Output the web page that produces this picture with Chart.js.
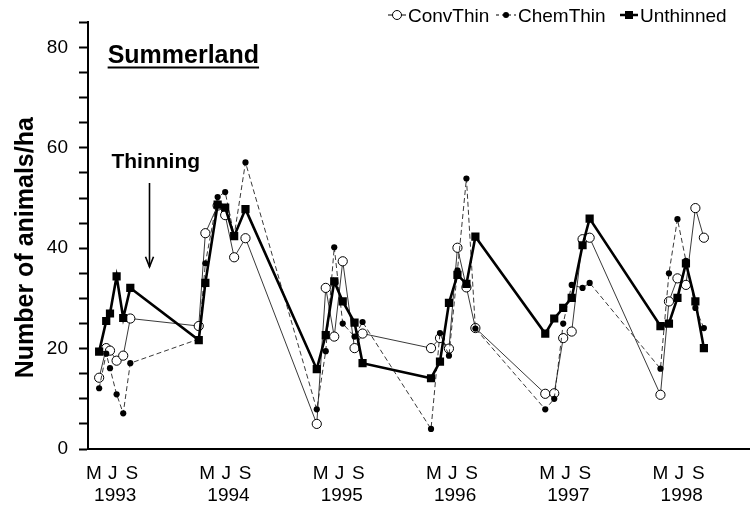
<!DOCTYPE html>
<html>
<head>
<meta charset="utf-8">
<script src="https://cdn.jsdelivr.net/npm/chart.js@4/dist/chart.umd.min.js"></script>
<style>
  html, body { margin: 0; padding: 0; background: #ffffff; }
  #wrap { width: 755px; height: 508px; }
</style>
</head>
<body>
<div id="wrap"><canvas id="chart" width="755" height="508"></canvas></div>
<script>
const FONT = '"Liberation Sans", Arial, Helvetica, sans-serif';

// Text
const yTitle = 'Number of animals/ha';
const siteName = 'Summerland';
const eventLabel = 'Thinning';
const seriesNames = ['ConvThin', 'ChemThin', 'Unthinned'];

// Axis labelling: months counted from Dec 1992 (May 1993 = 5)
const years = [1993, 1994, 1995, 1996, 1997, 1998];
const monthLetters = ['M', 'J', 'S'];
const monthNumbers = [5, 7, 9];
const yLabelled = [0, 20, 40, 60, 80];

// Sampling dates (months from Dec 1992)
const sampleMonths = [
  5.55, 6.3, 6.7, 7.4, 8.1, 8.85,
  16.1, 16.8, 18.1, 18.9, 19.85, 21.05,
  28.6, 29.55, 30.45, 31.35, 32.6, 33.45,
  40.7, 41.65, 42.6, 43.5, 44.45, 45.4,
  52.8, 53.75, 54.7, 55.6, 56.75, 57.5,
  65.0, 65.9, 66.8, 67.7, 68.7, 69.6
];

// Animals per hectare
const convThin = [
  14.2, 20.1, 19.6, 17.6, 18.6, 26.0,
  24.5, 43.0, 48.5, 46.6, 38.2, 42.0,
  5.0, 32.1, 22.4, 37.4, 20.1, 23.0,
  20.1, 22.1, 20.0, 40.1, 32.2, 24.1,
  11.0, 11.1, 22.1, 23.4, 41.8, 42.1,
  10.8, 29.4, 34.0, 32.7, 48.0, 42.1
];
const chemThin = [
  12.1, 19.0, 16.1, 10.9, 7.1, 17.1,
  21.9, 37.0, 50.2, 51.2, 42.5, 57.1,
  7.9, 19.5, 40.2, 25.0, 22.4, 25.3,
  4.0, 23.1, 18.6, 35.6, 53.9, 24.0,
  7.9, 10.0, 25.0, 32.7, 32.1, 33.1,
  16.0, 35.0, 45.8, 37.5, 28.1, 24.1
];
const unthinned = [
  19.4, 25.5, 27.0, 34.4, 26.1, 32.1,
  21.7, 33.1, 48.7, 48.1, 42.4, 47.8,
  15.9, 22.7, 33.4, 29.4, 25.2, 17.1,
  14.1, 17.4, 29.1, 34.7, 32.9, 42.3,
  23.0, 26.0, 28.1, 30.1, 40.6, 45.9,
  24.5, 25.0, 30.1, 37.0, 29.4, 20.1
];

// Annotation anchors in data units
const thinningMonth = 10.8;
const arrowFrom = 53;
const arrowTo = 36.3;

const toPoints = vals => vals.map((v, i) => ({ x: sampleMonths[i], y: v }));

const xMin = 4.37, xMax = 74.4;

// Legend with line-and-marker samples
const legendPlugin = {
  id: 'sampleLegend',
  afterDraw(chart) {
    const ctx = chart.ctx;
    const y = 15;
    const items = [
      { name: seriesNames[0], x: 388, w: 18, kind: 'circle', lw: 1, dash: [] },
      { name: seriesNames[1], x: 496, w: 20, kind: 'dot', lw: 1, dash: [3, 3] },
      { name: seriesNames[2], x: 620, w: 18, kind: 'square', lw: 2.5, dash: [] }
    ];
    ctx.save();
    ctx.font = '19px ' + FONT;
    ctx.textBaseline = 'middle';
    ctx.fillStyle = '#000';
    items.forEach(it => {
      ctx.strokeStyle = '#000';
      ctx.lineWidth = it.lw;
      ctx.setLineDash(it.dash);
      ctx.beginPath();
      ctx.moveTo(it.x, y);
      ctx.lineTo(it.x + it.w, y);
      ctx.stroke();
      ctx.setLineDash([]);
      const cx = it.x + it.w / 2;
      if (it.kind === 'circle') {
        ctx.beginPath();
        ctx.arc(cx, y, 4.5, 0, Math.PI * 2);
        ctx.fillStyle = '#fff';
        ctx.fill();
        ctx.lineWidth = 1;
        ctx.stroke();
      } else if (it.kind === 'dot') {
        ctx.beginPath();
        ctx.arc(cx, y, 3, 0, Math.PI * 2);
        ctx.fillStyle = '#000';
        ctx.fill();
      } else {
        ctx.fillStyle = '#000';
        ctx.fillRect(cx - 4, y - 4, 8, 8);
      }
      ctx.fillStyle = '#000';
      ctx.fillText(it.name, it.x + it.w + 2, y + 2);
    });
    ctx.restore();
  }
};

// Site name, thinning note with arrow, and the rotated y title
const notesPlugin = {
  id: 'notes',
  afterDraw(chart) {
    const ctx = chart.ctx;
    const xs = chart.scales.x, ys = chart.scales.y;
    ctx.save();
    ctx.fillStyle = '#000';
    ctx.strokeStyle = '#000';

    // site name, underlined
    ctx.font = 'bold 25px ' + FONT;
    ctx.textBaseline = 'alphabetic';
    const nx = xs.getPixelForValue(6.45);
    const ny = ys.getPixelForValue(76.9);
    ctx.fillText(siteName, nx, ny);
    const nw = ctx.measureText(siteName).width;
    ctx.lineWidth = 2;
    ctx.beginPath();
    ctx.moveTo(nx, ny + 4.5);
    ctx.lineTo(nx + nw, ny + 4.5);
    ctx.stroke();

    // thinning note
    ctx.font = 'bold 21px ' + FONT;
    ctx.fillText(eventLabel, xs.getPixelForValue(6.85), ys.getPixelForValue(56.0));

    const ax = Math.round(xs.getPixelForValue(thinningMonth)) + 0.5;
    const ay0 = ys.getPixelForValue(arrowFrom);
    const ay1 = ys.getPixelForValue(arrowTo);
    ctx.lineWidth = 1.6;
    ctx.beginPath();
    ctx.moveTo(ax, ay0);
    ctx.lineTo(ax, ay1);
    ctx.stroke();
    ctx.beginPath();
    ctx.moveTo(ax - 4, ay1 - 10);
    ctx.lineTo(ax, ay1);
    ctx.lineTo(ax + 4, ay1 - 10);
    ctx.stroke();

    // y axis title
    ctx.font = 'bold 25px ' + FONT;
    ctx.textAlign = 'center';
    ctx.textBaseline = 'alphabetic';
    ctx.translate(33, (ys.top + ys.bottom) / 2 + 12);
    ctx.rotate(-Math.PI / 2);
    ctx.fillText(yTitle, 0, 0);
    ctx.restore();
  }
};

new Chart(document.getElementById('chart'), {
  type: 'line',
  data: {
    datasets: [
      {
        label: seriesNames[2],
        data: toPoints(unthinned),
        borderColor: '#000',
        borderWidth: 2.6,
        pointStyle: 'rect',
        pointRadius: 5.8,
        pointBackgroundColor: '#000',
        pointBorderColor: '#000',
        pointBorderWidth: 0,
        tension: 0,
        order: 0
      },
      {
        label: seriesNames[1],
        data: toPoints(chemThin),
        borderColor: '#222',
        borderWidth: 0.9,
        borderDash: [5, 3],
        pointStyle: 'circle',
        pointRadius: 3.1,
        pointBackgroundColor: '#000',
        pointBorderColor: '#000',
        pointBorderWidth: 0,
        tension: 0,
        order: 1
      },
      {
        label: seriesNames[0],
        data: toPoints(convThin),
        borderColor: '#222',
        borderWidth: 0.9,
        pointStyle: 'circle',
        pointRadius: 4.6,
        pointBackgroundColor: '#fff',
        pointBorderColor: '#000',
        pointBorderWidth: 1,
        tension: 0,
        order: 2
      }
    ]
  },
  options: {
    responsive: false,
    animation: false,
    devicePixelRatio: 1,
    layout: { padding: { top: 18, left: 0, right: 0, bottom: 0 } },
    plugins: {
      legend: { display: false },
      tooltip: { enabled: false }
    },
    scales: {
      x: {
        type: 'linear',
        position: 'bottom',
        weight: 0,
        min: xMin,
        max: xMax,
        afterBuildTicks(scale) {
          const t = [];
          years.forEach((yr, k) => monthNumbers.forEach(m => t.push({ value: 12 * k + m })));
          scale.ticks = t;
        },
        afterFit(scale) { scale.height = 33; },
        ticks: {
          autoSkip: false,
          maxRotation: 0,
          padding: 13,
          color: '#000',
          font: { family: FONT, size: 19 },
          callback(v) {
            const m = Math.round(v) % 12;
            return monthLetters[monthNumbers.indexOf(m)] || '';
          }
        },
        grid: { display: false, drawTicks: false },
        border: { display: true, color: '#000', width: 2 }
      },
      xYear: {
        type: 'linear',
        position: 'bottom',
        weight: 1,
        min: xMin,
        max: xMax,
        afterBuildTicks(scale) {
          scale.ticks = years.map((yr, k) => ({ value: 12 * k + 7.25 }));
        },
        afterFit(scale) { scale.height = 26; },
        ticks: {
          autoSkip: false,
          maxRotation: 0,
          padding: 2,
          color: '#000',
          font: { family: FONT, size: 19 },
          callback(v) {
            return String(years[Math.round((v - 7.25) / 12)]);
          }
        },
        grid: { display: false, drawTicks: false },
        border: { display: false }
      },
      y: {
        type: 'linear',
        min: 0,
        max: 85,
        afterFit(scale) { scale.width = 88; },
        afterBuildTicks(scale) {
          const t = [];
          for (let v = 0; v <= 85; v += 5) t.push({ value: v });
          scale.ticks = t;
        },
        ticks: {
          autoSkip: false,
          padding: 11,
          color: '#000',
          font: { family: FONT, size: 19 },
          callback(v) { return yLabelled.includes(v) ? String(v) : ''; }
        },
        grid: {
          drawOnChartArea: false,
          drawTicks: true,
          tickLength: 9,
          tickColor: '#000',
          tickWidth: 2
        },
        border: { display: true, color: '#000', width: 2 }
      }
    }
  },
  plugins: [legendPlugin, notesPlugin]
});
</script>
</body>
</html>
